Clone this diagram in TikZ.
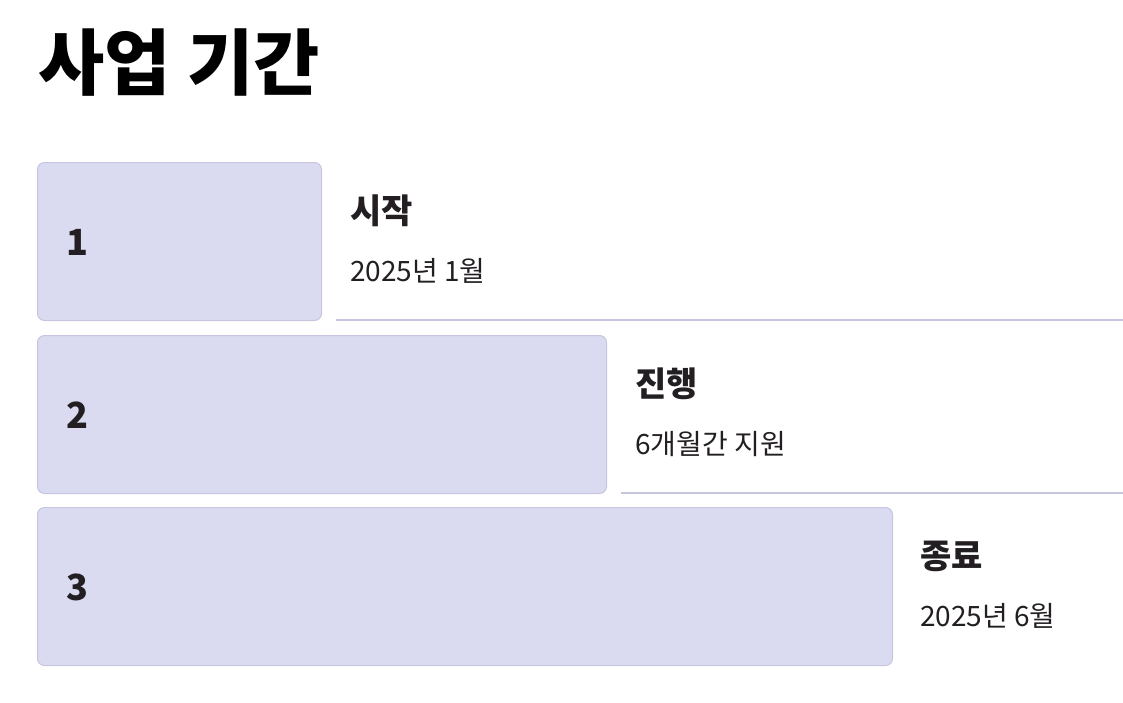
\documentclass[tikz,border=0pt]{standalone}
\usepackage{fontspec}
\setmainfont{Noto Sans CJK KR}
\usepackage{xcolor}
\usetikzlibrary{positioning}
\definecolor{barFill}{RGB}{218,218,240}
\definecolor{barLine}{RGB}{198,198,224}
\definecolor{txtColor}{RGB}{34,30,34}
\tikzset{
    bar/.style={
        draw=barLine,
        fill=barFill,
        line width=1pt,
        rounded corners=7pt,
        anchor=north west,
        inner sep=0pt,
        minimum height=158pt
    },
    stepnum/.style={
        anchor=base west,
        inner sep=0pt,
        text=txtColor,
        font=\fontsize{36}{40}\selectfont\bfseries
    },
    steptitle/.style={
        anchor=base west,
        inner sep=0pt,
        text=txtColor,
        font=\fontsize{34}{40}\selectfont\bfseries
    },
    stepdesc/.style={
        anchor=base west,
        inner sep=0pt,
        text=txtColor,
        font=\fontsize{28}{32}\selectfont
    },
    sepline/.style={
        draw=barLine,
        line width=1.5pt
    }
}

\begin{document}
\begin{tikzpicture}[x=1pt, y=-1pt]
        \useasboundingbox (0,0) rectangle (1123,702);
        \node[anchor=base west, inner sep=0pt, font=\fontsize{72}{80}\selectfont\bfseries] (title) at (38,89) {사업 기간};

        \node[bar, minimum width=284pt] (bar1) at (37,162) {};
        \node[bar, minimum width=569pt] (bar2) at (37,335) {};
        \node[bar, minimum width=855pt] (bar3) at (37,507) {};

        \node[stepnum] (num1) at (66,255) {1};
        \node[stepnum] (num2) at (66,428) {2};
        \node[stepnum] (num3) at (66,600) {3};

        \node[steptitle] (head1) at (350,223) {시작};
        \node[stepdesc] (desc1) at (350,281) {2025년 1월};
        \node[steptitle] (head2) at (635,396) {진행};
        \node[stepdesc] (desc2) at (635,454) {6개월간 지원};
        \node[steptitle] (head3) at (920,568) {종료};
        \node[stepdesc] (desc3) at (920,626) {2025년 6월};

        \coordinate (sep1a) at (336,320);
        \coordinate (sep1b) at (1123,320);
        \coordinate (sep2a) at (621,493);
        \coordinate (sep2b) at (1123,493);
        \draw[sepline] (sep1a) -- (sep1b);
        \draw[sepline] (sep2a) -- (sep2b);
    \end{tikzpicture}
\end{document}
